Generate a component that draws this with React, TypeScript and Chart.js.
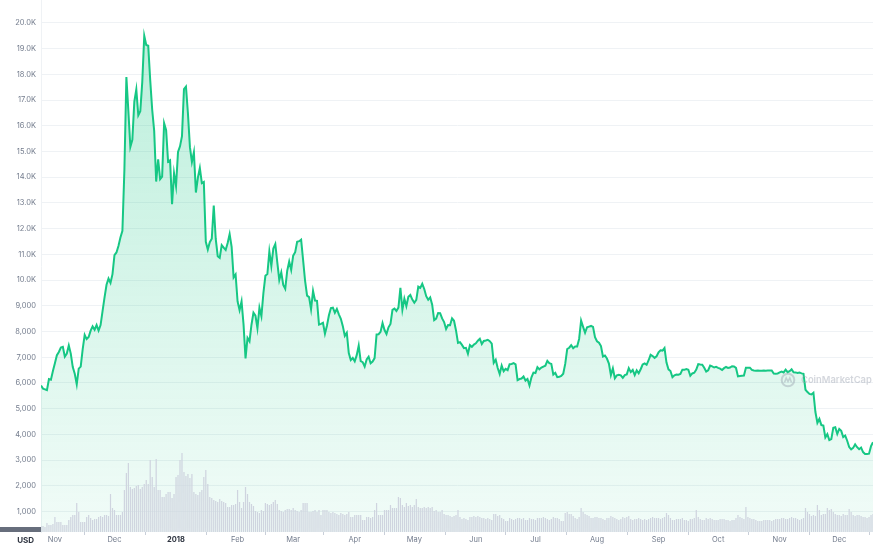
import React, { useEffect, useRef } from 'react';
import { Chart, registerables } from 'chart.js';

Chart.register(...registerables);

// Daily close prices (USD), 25 Oct 2017 – 18 Dec 2018
const priceOct2017 = [5904, 5780, 5753, 5720, 6153, 6130, 6468];
const priceNov2017 = [6767, 7078, 7207, 7379, 7407, 7022, 7144, 7459, 7143, 6618, 6357, 5950, 6559, 6635, 7315, 7871, 7708, 7790, 8036, 8200, 8071, 8253, 8038, 8253, 8790, 9330, 9818, 10058, 9888, 10233];
const priceDec2017 = [10975, 11074, 11323, 11657, 11916, 14291, 17899, 16569, 15178, 15455, 16936, 17415, 16408, 16564, 17706, 19498, 19141, 19114, 17776, 16624, 15802, 13831, 14699, 13926, 14027, 16099, 15838, 14606, 14656, 12952, 14156];
const priceJan2018 = [13657, 14982, 15201, 15599, 17429, 17527, 16477, 15170, 14595, 14973, 13405, 13980, 14360, 13773, 13819, 11490, 11188, 11474, 11607, 12899, 11600, 10931, 10868, 11359, 11259, 11171, 11440, 11787, 11296, 10106, 10221];
const priceFeb2018 = [9170, 8830, 9174, 8277, 6955, 7754, 7621, 8265, 8736, 8621, 8129, 8926, 8598, 9494, 10166, 10233, 11112, 10551, 11225, 11403, 10690, 10005, 10301, 9813, 9664, 10366, 10725, 10397];
const priceMar2018 = [10951, 11086, 11489, 11512, 11573, 10779, 9965, 9395, 9337, 8866, 9578, 9205, 9194, 8269, 8300, 8338, 7916, 8223, 8630, 8913, 8929, 8728, 8880, 8669, 8496, 8210, 7833, 7954, 7165, 6891, 6973];
const priceApr2018 = [6844, 7083, 7456, 6853, 6811, 6636, 6911, 7023, 6770, 6834, 6968, 7889, 7895, 7986, 8330, 8058, 7903, 8164, 8294, 8845, 8895, 8802, 8930, 9697, 8845, 9281, 8987, 9348, 9419, 9240];
const priceMay2018 = [9119, 9235, 9744, 9700, 9858, 9654, 9374, 9234, 9325, 9043, 8441, 8504, 8723, 8716, 8510, 8368, 8095, 8250, 8248, 8514, 8419, 8042, 7557, 7587, 7480, 7355, 7368, 7136, 7472, 7406, 7495];
const priceJun2018 = [7541, 7643, 7720, 7514, 7633, 7653, 7679, 7624, 7531, 6786, 6906, 6582, 6349, 6675, 6456, 6550, 6500, 6729, 6741, 6770, 6721, 6112, 6154, 6173, 6250, 6094, 6157, 5904, 6219, 6404];
const priceJul2018 = [6386, 6614, 6530, 6598, 6639, 6674, 6857, 6773, 6741, 6329, 6394, 6228, 6238, 6276, 6359, 6741, 7321, 7370, 7466, 7354, 7419, 7418, 7711, 8424, 8182, 7951, 8166, 8193, 8218, 8180, 7780];
const priceAug2018 = [7624, 7567, 7434, 7032, 7068, 6951, 6753, 6305, 6568, 6184, 6295, 6322, 6297, 6199, 6308, 6334, 6580, 6423, 6506, 6308, 6489, 6376, 6534, 6719, 6763, 6707, 6884, 7096, 7047, 6978, 7037];
const priceSep2018 = [7193, 7272, 7260, 7362, 6792, 6529, 6467, 6225, 6300, 6329, 6321, 6351, 6517, 6512, 6543, 6517, 6281, 6371, 6398, 6519, 6734, 6721, 6710, 6595, 6446, 6495, 6676, 6644, 6601, 6625];
const priceOct2018 = [6589, 6556, 6502, 6576, 6622, 6588, 6602, 6652, 6642, 6585, 6256, 6274, 6285, 6290, 6596, 6597, 6596, 6507, 6487, 6475, 6487, 6475, 6479, 6487, 6475, 6483, 6486, 6487, 6367, 6361, 6371];
const priceNov2018 = [6411, 6446, 6411, 6518, 6418, 6461, 6530, 6415, 6411, 6386, 6409, 6373, 6359, 5738, 5648, 5575, 5554, 5623, 4871, 4451, 4602, 4365, 4347, 3880, 4009, 3779, 3820, 4257, 4278, 4017];
const priceDec2018 = [4214, 4139, 3894, 3956, 3754, 3510, 3419, 3476, 3614, 3502, 3424, 3486, 3313, 3242, 3236, 3252, 3545, 3697];

// Daily volume (hundreds of millions USD)
const volOct2017 = [18, 18, 15, 27, 21, 21, 24];
const volNov2017 = [45, 30, 30, 30, 21, 21, 21, 36, 45, 51, 51, 87, 60, 30, 30, 30, 45, 51, 42, 36, 39, 39, 45, 48, 45, 51, 51, 48, 114, 72];
const volDec2017 = [66, 51, 51, 51, 60, 126, 177, 207, 135, 129, 132, 138, 141, 129, 135, 144, 156, 144, 216, 165, 135, 219, 126, 126, 105, 105, 114, 120, 120, 102, 114];
const volJan2018 = [165, 171, 216, 237, 180, 168, 174, 162, 174, 120, 114, 111, 120, 126, 165, 186, 144, 105, 102, 96, 93, 90, 99, 93, 90, 87, 75, 75, 81, 81, 84];
const volFeb2018 = [126, 90, 72, 90, 135, 114, 90, 84, 78, 63, 60, 57, 66, 63, 87, 84, 81, 84, 90, 96, 84, 66, 63, 60, 66, 69, 69, 66];
const volMar2018 = [72, 66, 63, 60, 66, 87, 87, 87, 60, 60, 63, 66, 60, 66, 51, 66, 66, 66, 60, 57, 60, 57, 54, 51, 57, 54, 51, 54, 60, 45, 45];
const volApr2018 = [51, 51, 51, 51, 36, 36, 45, 45, 42, 45, 66, 87, 51, 51, 51, 66, 66, 66, 81, 72, 72, 72, 105, 102, 81, 75, 87, 78, 81, 75];
const volMay2018 = [81, 99, 75, 72, 72, 75, 72, 75, 72, 75, 63, 66, 60, 60, 66, 54, 51, 51, 48, 45, 48, 51, 66, 45, 39, 42, 39, 36, 45, 45, 48];
const volJun2018 = [45, 48, 45, 42, 42, 39, 42, 39, 36, 54, 54, 48, 51, 42, 39, 33, 33, 42, 39, 36, 39, 42, 42, 39, 42, 36, 36, 42, 39, 39];
const volJul2018 = [36, 42, 42, 42, 45, 42, 39, 36, 39, 45, 42, 42, 39, 33, 33, 57, 60, 54, 54, 48, 42, 39, 45, 72, 60, 54, 51, 48, 42, 42, 45];
const volAug2018 = [45, 42, 42, 39, 36, 42, 42, 48, 45, 42, 39, 36, 39, 45, 42, 45, 48, 39, 36, 39, 39, 42, 39, 36, 39, 36, 39, 42, 45, 42, 42];
const volSep2018 = [42, 39, 42, 45, 57, 51, 42, 36, 36, 39, 39, 39, 42, 36, 36, 33, 39, 39, 42, 66, 45, 39, 36, 36, 42, 39, 42, 39, 36, 36];
const volOct2018 = [36, 39, 39, 39, 36, 36, 33, 36, 36, 42, 51, 45, 42, 39, 75, 45, 42, 39, 39, 36, 33, 33, 33, 36, 36, 36, 36, 33, 36, 39, 39];
const volNov2018 = [39, 42, 42, 39, 39, 42, 45, 42, 42, 39, 36, 39, 42, 72, 60, 54, 48, 51, 48, 81, 66, 51, 54, 54, 72, 66, 69, 60, 54, 51];
const volDec2018 = [51, 48, 54, 51, 51, 69, 60, 51, 48, 51, 51, 48, 45, 45, 42, 45, 51, 54];

// Month tick positions (days since 25 Oct 2017) and labels
const monthTickDays = [7, 37, 68, 99, 127, 158, 188, 219, 249, 280, 311, 341, 372, 402];
const monthTickLabels = ['Nov', 'Dec', '2018', 'Feb', 'Mar', 'Apr', 'May', 'Jun', 'Jul', 'Aug', 'Sep', 'Oct', 'Nov', 'Dec'];
const priceTickValues = [1000, 2000, 3000, 4000, 5000, 6000, 7000, 8000, 9000, 10000, 11000, 12000, 13000, 14000, 15000, 16000, 17000, 18000, 19000, 20000];

const prices = [
  ...priceOct2017, ...priceNov2017, ...priceDec2017, ...priceJan2018, ...priceFeb2018,
  ...priceMar2018, ...priceApr2018, ...priceMay2018, ...priceJun2018, ...priceJul2018,
  ...priceAug2018, ...priceSep2018, ...priceOct2018, ...priceNov2018, ...priceDec2018,
];
const volumes = [
  ...volOct2017, ...volNov2017, ...volDec2017, ...volJan2018, ...volFeb2018,
  ...volMar2018, ...volApr2018, ...volMay2018, ...volJun2018, ...volJul2018,
  ...volAug2018, ...volSep2018, ...volOct2018, ...volNov2018, ...volDec2018,
];

const FONT = 'Inter, "Noto Sans", sans-serif';

const extrasPlugin = {
  id: 'extras',
  afterDatasetsDraw(chart: any) {
    const { ctx, chartArea } = chart;
    ctx.save();
    const col = 'rgba(150,158,172,0.42)';
    const cx = chartArea.right - 85;
    const cy = 380;
    ctx.strokeStyle = col;
    ctx.lineWidth = 2;
    ctx.beginPath();
    ctx.arc(cx, cy, 6.3, 0, Math.PI * 2);
    ctx.stroke();
    ctx.lineWidth = 1.6;
    ctx.beginPath();
    ctx.moveTo(cx - 3.5, cy + 2.5);
    ctx.lineTo(cx - 1.8, cy - 2);
    ctx.lineTo(cx, cy + 1.5);
    ctx.lineTo(cx + 1.8, cy - 2);
    ctx.lineTo(cx + 3.5, cy + 2.5);
    ctx.stroke();
    ctx.fillStyle = col;
    ctx.font = `600 10px ${FONT}`;
    const w = ctx.measureText('CoinMarketCap').width;
    const size = (10 * 71) / w;
    ctx.font = `600 ${size}px ${FONT}`;
    ctx.textBaseline = 'middle';
    ctx.textAlign = 'left';
    ctx.fillText('CoinMarketCap', cx + 13, cy + 0.5);
    ctx.restore();
  },
  afterDraw(chart: any) {
    const { ctx, chartArea } = chart;
    ctx.save();
    ctx.fillStyle = '#676e7c';
    ctx.fillRect(0, chartArea.bottom - 5, chartArea.left, 5);
    ctx.fillStyle = '#2f3541';
    ctx.font = `700 8px ${FONT}`;
    ctx.textAlign = 'right';
    ctx.textBaseline = 'middle';
    ctx.fillText('USD', 34, 540.5);
    ctx.restore();
  },
};

export default function App() {
  const canvasRef = useRef<HTMLCanvasElement | null>(null);

  useEffect(() => {
    document.body.style.margin = '0';
    const canvas = canvasRef.current;
    if (!canvas) return;

    const priceData = prices.map((y, i) => ({ x: i, y }));
    const volumeData = volumes.map((y, i) => ({ x: i, y }));

    const chart = new Chart(canvas, {
      type: 'line',
      data: {
        datasets: [
          {
            type: 'bar',
            label: 'Volume',
            data: volumeData as any,
            yAxisID: 'yv',
            backgroundColor: '#cfd4df',
            borderWidth: 0,
            barPercentage: 0.62,
            categoryPercentage: 1,
            order: 0,
          } as any,
          {
            type: 'line',
            label: 'Price',
            data: priceData as any,
            yAxisID: 'y',
            borderColor: '#16c784',
            borderWidth: 2,
            pointRadius: 0,
            tension: 0,
            fill: 'start',
            backgroundColor: (c: any) => {
              const ca = c.chart.chartArea;
              if (!ca) return 'rgba(22,199,132,0.2)';
              const g = c.chart.ctx.createLinearGradient(0, ca.top, 0, ca.bottom);
              g.addColorStop(0, 'rgba(22,199,132,0.30)');
              g.addColorStop(1, 'rgba(22,199,132,0.06)');
              return g;
            },
            order: 1,
          } as any,
        ],
      },
      options: {
        responsive: false,
        animation: false,
        devicePixelRatio: 1,
        layout: { padding: 0 },
        plugins: {
          legend: { display: false },
          tooltip: { enabled: false },
        },
        scales: {
          x: {
            type: 'linear',
            min: 0,
            max: prices.length - 1,
            offset: false,
            afterBuildTicks: (s: any) => {
              s.ticks = monthTickDays.map((v) => ({ value: v }));
            },
            afterFit: (s: any) => {
              s.height = 13;
              s.paddingLeft = 0;
              s.paddingRight = 0;
            },
            grid: {
              drawOnChartArea: false,
              drawTicks: true,
              tickLength: 3,
              color: '#c9cfd9',
            },
            border: { display: false },
            ticks: {
              autoSkip: false,
              maxRotation: 0,
              padding: 0,
              color: (c: any) => (c.tick && c.tick.label === '2018' ? '#2f3541' : '#737c8d'),
              font: (c: any) => ({
                family: FONT,
                size: 7.5,
                weight: c.tick && c.tick.label === '2018' ? 'bold' : 'normal',
              }),
              callback: (v: any) => {
                const idx = monthTickDays.indexOf(Number(v));
                return idx >= 0 ? monthTickLabels[idx] : '';
              },
            },
          },
          y: {
            position: 'left',
            min: 206,
            max: 20891,
            afterBuildTicks: (s: any) => {
              s.ticks = priceTickValues.map((v) => ({ value: v }));
            },
            afterFit: (s: any) => {
              s.width = 41;
              s.paddingTop = 0;
              s.paddingBottom = 0;
            },
            grid: { color: '#eff2f5', lineWidth: 1, drawTicks: false },
            border: { display: true, color: '#eff2f5' },
            ticks: {
              padding: 5,
              color: '#737c8d',
              font: { family: FONT, size: 7.5 },
              callback: (v: any) => {
                const n = Number(v);
                return n >= 10000 ? (n / 1000).toFixed(1) + 'K' : n.toLocaleString('en-US');
              },
            },
          },
          yv: {
            display: false,
            min: 0,
            max: 1596,
            afterFit: (s: any) => {
              s.width = 0;
            },
          },
        },
      } as any,
      plugins: [extrasPlugin],
    });

    return () => chart.destroy();
  }, []);

  return (
    <div style={{ width: 873, height: 545 }}>
      <canvas ref={canvasRef} width={873} height={545} style={{ display: 'block' }} />
    </div>
  );
}
